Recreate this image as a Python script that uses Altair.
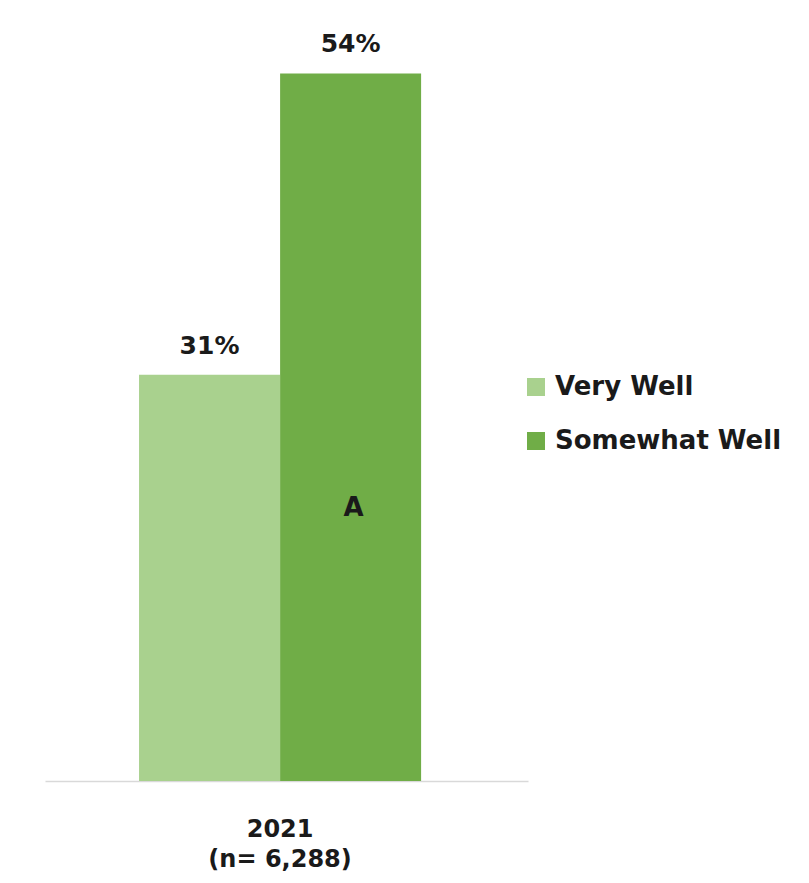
import altair as alt
import pandas as pd

# Data
category = ["2021|(n= 6,288)", "2021|(n= 6,288)"]
series = ["Very Well", "Somewhat Well"]
values = [31, 54]
value_labels = ["31%", "54%"]
sig_letters = ["", "A"]
colors = ["#A9D18E", "#70AD47"]

df = pd.DataFrame({
    "category": category,
    "series": series,
    "value": values,
    "label": value_labels,
    "sig": sig_letters,
})

FONT = "DejaVu Sans"

x_enc = alt.X(
    "category:N",
    title=None,
    scale=alt.Scale(paddingInner=0, paddingOuter=0.356, align=0.468),
    axis=alt.Axis(
        labelExpr="split(datum.label, '|')",
        labelAngle=0,
        labelFont=FONT,
        labelFontSize=24,
        labelFontWeight="bold",
        labelColor="#1a1a1a",
        labelLineHeight=30,
        labelPadding=36,
        ticks=False,
        domainColor="#d9d9d9",
        domainWidth=1.5,
        grid=False,
    ),
)
xoff = alt.XOffset("series:N", sort=series, scale=alt.Scale(paddingInner=0, paddingOuter=0))
y_scale = alt.Scale(domain=[0, 58], nice=False, zero=True)

base = alt.Chart(df)

bars = base.mark_bar(size=141).encode(
    x=x_enc,
    xOffset=xoff,
    y=alt.Y("value:Q", scale=y_scale, axis=None),
    color=alt.Color(
        "series:N",
        sort=series,
        scale=alt.Scale(domain=series, range=colors),
        legend=alt.Legend(
            title=None,
            orient="none",
            legendX=478,
            legendY=353,
            symbolType="square",
            symbolSize=324,
            symbolStrokeWidth=0,
            symbolOpacity=1,
            labelFont=FONT,
            labelFontSize=26,
            labelFontWeight="bold",
            labelColor="#1a1a1a",
            labelOffset=6,
            rowPadding=28,
            labelLimit=400,
        ),
    ),
)

value_text = base.mark_text(
    font=FONT, fontSize=25, fontWeight="bold", color="#1a1a1a", baseline="bottom", dy=-16
).encode(
    x=x_enc,
    xOffset=xoff,
    y=alt.Y("value:Q", scale=y_scale),
    text="label:N",
)

sig_text = base.mark_text(
    font=FONT, fontSize=26, fontWeight="bold", color="#1a1a1a", baseline="middle", dx=3
).encode(
    x=x_enc,
    xOffset=xoff,
    y=alt.Y(datum=20.8, scale=y_scale),
    text="sig:N",
)

chart = (
    alt.layer(bars, value_text, sig_text)
    .properties(
        width=483,
        height=760,
        padding={"left": 37, "top": 13, "right": 5, "bottom": 5},
        background="white",
    )
    .configure_view(stroke=None)
)

chart.save("out.html", embed_options={"renderer": "svg", "actions": False})
